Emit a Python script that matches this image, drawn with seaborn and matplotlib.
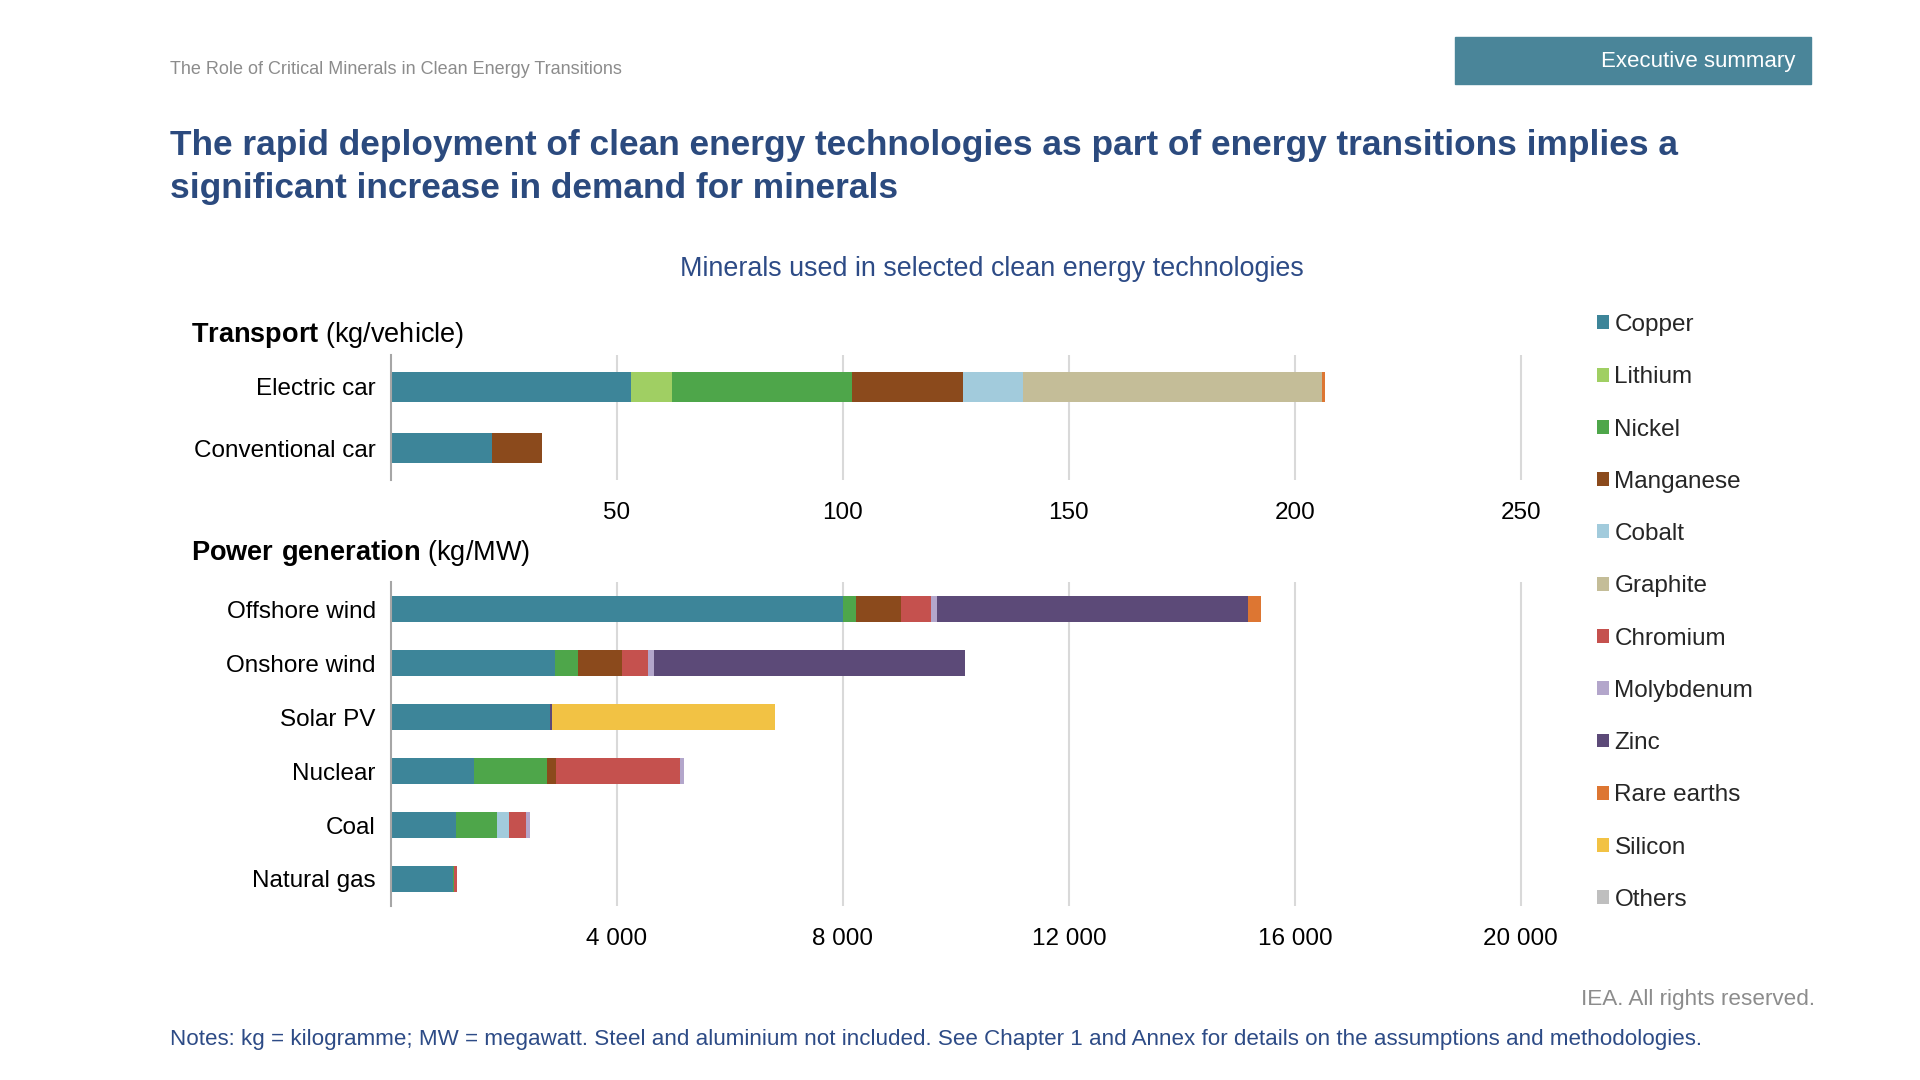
import matplotlib
matplotlib.use("Agg")
import matplotlib.pyplot as plt
from matplotlib.patches import Patch, Rectangle
from matplotlib.ticker import FuncFormatter
import pandas as pd
import seaborn as sb

minerals = ["Copper", "Lithium", "Nickel", "Manganese", "Cobalt", "Graphite",
            "Chromium", "Molybdenum", "Zinc", "Rare earths", "Silicon", "Others"]
colours = ["#3d8599", "#a0cf63", "#4ea64a", "#8b4a1c", "#a2cbdc", "#c4bd98",
           "#c5514e", "#b3a6cb", "#5c4a78", "#dd7632", "#f2c244", "#bfbfbf"]

# kg per vehicle, in the order of minerals
transport_techs = ["Electric car", "Conventional car"]
electric_car = [53.2, 8.9, 39.9, 24.5, 13.3, 66.3, 0, 0, 0, 0.5, 0, 0]
conventional_car = [22.3, 0, 0, 11.2, 0, 0, 0, 0, 0, 0, 0, 0]

# kg per MW
power_techs = ["Offshore wind", "Onshore wind", "Solar PV", "Nuclear", "Coal", "Natural gas"]
offshore_wind = [8000, 0, 240, 790, 0, 0, 525, 109, 5500, 239, 0, 0]
onshore_wind = [2900, 0, 404, 780, 0, 0, 470, 99, 5500, 14, 0, 0]
solar_pv = [2822, 0, 0, 0, 0, 0, 0, 0, 30, 0, 3940, 0]
nuclear = [1473, 0, 1297, 148, 0, 0, 2190, 70, 0, 0, 0, 0]
coal = [1150, 0, 721, 0, 210, 0, 308, 66, 0, 0, 0, 0]
natural_gas = [1100, 0, 16, 0, 0, 0, 48, 2, 0, 0, 0, 0]

transport_ticks = [50, 100, 150, 200, 250]
power_ticks = [4000, 8000, 12000, 16000, 20000]


def long_table(techs, rows):
    recs = []
    for tech, vals in zip(techs, rows):
        cum = 0
        for m, v in zip(minerals, vals):
            cum += v
            recs.append({"tech": tech, "mineral": m, "value": v, "cum": cum})
    return pd.DataFrame(recs)


def stacked(ax, df, techs, width):
    # draw cumulative totals from the last mineral back to the first
    for m, c in reversed(list(zip(minerals, colours))):
        sb.barplot(data=df[df["mineral"] == m], x="cum", y="tech", order=techs,
                   color=c, saturation=1, width=width, linewidth=0, ax=ax)


def style_axis(ax, xmax, ticks, fmt):
    ax.set_xlim(0, xmax)
    ax.set_xticks(ticks)
    ax.xaxis.set_major_formatter(FuncFormatter(fmt))
    ax.grid(axis="x", color="#d9d9d9", linewidth=1.5)
    ax.set_axisbelow(True)
    for s in ["top", "right", "bottom"]:
        ax.spines[s].set_visible(False)
    ax.spines["left"].set_color("#a6a6a6")
    ax.spines["left"].set_linewidth(1.5)
    ax.tick_params(axis="x", length=0, pad=15.5, labelsize=17.5, labelcolor="black")
    ax.tick_params(axis="y", length=0, pad=11, labelsize=17.5, labelcolor="black")
    ax.set_xlabel("")
    ax.set_ylabel("")


sb.set_style("white")
plt.rcParams["font.family"] = ["Liberation Sans", "DejaVu Sans"]
plt.rcParams["mathtext.fontset"] = "custom"
plt.rcParams["mathtext.rm"] = "Liberation Sans"
plt.rcParams["mathtext.bf"] = "Liberation Sans:bold"

fig = plt.figure(figsize=(19.2, 10.8), dpi=100)

dark_blue = "#2b4a7e"
fig.text(170 / 1920, 1 - 69.5 / 1080, "The Role of Critical Minerals in Clean Energy Transitions",
         fontsize=13, color="#8c8c8c", va="center")
fig.patches.append(Rectangle((1455 / 1920, 1 - 84 / 1080), 356 / 1920, 47 / 1080,
                             transform=fig.transFigure, color="#4a8599", zorder=0))
fig.text(1795 / 1920, 1 - 62 / 1080, "Executive summary", fontsize=16, color="white",
         ha="right", va="center")
fig.text(170 / 1920, 1 - 145.5 / 1080,
         "The rapid deployment of clean energy technologies as part of energy transitions implies a",
         fontsize=25.4, fontweight="bold", color=dark_blue, va="center")
fig.text(170 / 1920, 1 - 188.5 / 1080, "significant increase in demand for minerals",
         fontsize=25.4, fontweight="bold", color=dark_blue, va="center")
fig.text(992 / 1920, 1 - 268.5 / 1080, "Minerals used in selected clean energy technologies",
         fontsize=19.4, color="#2d4b86", ha="center", va="center")

fig.text(191 / 1920, 1 - 334.5 / 1080, r"$\bf{Transport}$ (kg/vehicle)", fontsize=19.5,
         color="black", va="center")
fig.text(191 / 1920, 1 - 553.5 / 1080, r"$\bf{Power\ generation}$ (kg/MW)", fontsize=19.5,
         color="black", va="center")

# transport panel
ax1 = fig.add_axes([391 / 1920, 1 - 480 / 1080, 1175 / 1920, 125 / 1080])
stacked(ax1, long_table(transport_techs, [electric_car, conventional_car]), transport_techs, 0.5)
style_axis(ax1, 260, transport_ticks, lambda v, p: f"{v:.0f}")
ax1.set_ylim(1.52, -0.52)

# power panel
ax2 = fig.add_axes([391 / 1920, 1 - 906 / 1080, 1175 / 1920, 324 / 1080])
power_rows = [offshore_wind, onshore_wind, solar_pv, nuclear, coal, natural_gas]
stacked(ax2, long_table(power_techs, power_rows), power_techs, 0.48)
style_axis(ax2, 20800, power_ticks, lambda v, p: f"{v:,.0f}".replace(",", " "))
ax2.set_ylim(5.5, -0.5)

handles = [Patch(facecolor=c, edgecolor="none", label=m) for m, c in zip(minerals, colours)]
fig.legend(handles=handles, loc="upper left", bbox_to_anchor=(1597 / 1920, 1 - 314 / 1080),
           frameon=False, fontsize=17.5, handlelength=0.5, handleheight=0.5,
           handletextpad=0.22, labelspacing=1.245, borderpad=0, borderaxespad=0)

fig.text(1815 / 1920, 1 - 999.5 / 1080, "IEA. All rights reserved.", fontsize=16.2,
         color="#8c8c8c", ha="right", va="center")
fig.text(170 / 1920, 1 - 1039.5 / 1080,
         "Notes: kg = kilogramme; MW = megawatt. Steel and aluminium not included. "
         "See Chapter 1 and Annex for details on the assumptions and methodologies.",
         fontsize=16.1, color="#2d4b86", va="center")

fig.savefig("out.png", dpi=100)
